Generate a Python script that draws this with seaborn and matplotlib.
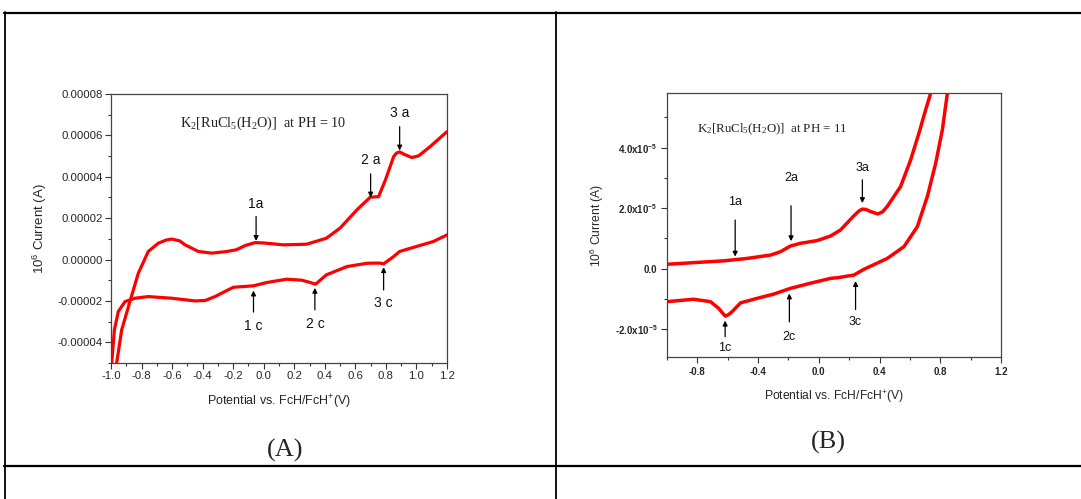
import numpy as np
import pandas as pd
import matplotlib
matplotlib.use("Agg")
import matplotlib.pyplot as plt
from matplotlib.lines import Line2D
from matplotlib.ticker import MultipleLocator, FixedLocator, FixedFormatter, FormatStrFormatter
import seaborn as sns

# --- datos (potencial en V, corriente en 1e-5 A) ---
# panel A, pH = 10
a_anod_E = [-0.963, -0.930, -0.873, -0.821, -0.756, -0.690, -0.640, -0.603, -0.55, -0.515, -0.428,
            -0.341, -0.25, -0.18, -0.12, -0.056, 0.0, 0.13, 0.28, 0.41, 0.50, 0.61,
            0.697, 0.752, 0.797, 0.851, 0.870, 0.890, 0.905, 0.927, 0.970, 1.014, 1.09, 1.2]
a_anod_I = [-5.0, -3.40, -1.95, -0.66, 0.39, 0.79, 0.94, 0.99, 0.90, 0.71, 0.39,
            0.31, 0.38, 0.47, 0.68, 0.82, 0.80, 0.71, 0.74, 1.03, 1.52, 2.40,
            3.01, 3.04, 3.85, 4.98, 5.15, 5.20, 5.14, 5.06, 4.93, 5.01, 5.46, 6.18]
a_cat_E = [-0.995, -0.978, -0.952, -0.908, -0.843, -0.756, -0.603, -0.45, -0.384, -0.319,
           -0.199, -0.067, 0.02, 0.15, 0.25, 0.30, 0.34, 0.41, 0.545, 0.676, 0.760, 0.785,
           0.85, 0.89, 1.0, 1.11, 1.2]
a_cat_I = [-5.0, -3.40, -2.51, -2.03, -1.87, -1.79, -1.87, -2.0, -1.98, -1.79,
           -1.34, -1.27, -1.11, -0.95, -1.0, -1.10, -1.19, -0.74, -0.34, -0.18, -0.17, -0.21,
           0.14, 0.39, 0.63, 0.87, 1.19]

# panel B, pH = 11
b_anod_E = [-1.0, -0.825, -0.627, -0.472, -0.319, -0.253, -0.187, -0.121, -0.011, 0.077,
            0.143, 0.231, 0.265, 0.286, 0.310, 0.341, 0.389, 0.420, 0.451, 0.539, 0.605,
            0.660, 0.704, 0.737, 0.76]
b_anod_I = [0.146, 0.20, 0.26, 0.34, 0.45, 0.56, 0.75, 0.84, 0.93, 1.08,
            1.28, 1.75, 1.91, 1.97, 1.96, 1.89, 1.81, 1.88, 2.06, 2.72, 3.60,
            4.49, 5.26, 5.81, 6.5]
b_cat_E = [-1.0, -0.825, -0.714, -0.660, -0.630, -0.615, -0.595, -0.571, -0.516, -0.406,
           -0.297, -0.187, -0.055, 0.077, 0.121, 0.231, 0.297, 0.451, 0.561, 0.649, 0.715,
           0.770, 0.814, 0.847, 0.865]
b_cat_I = [-1.09, -1.01, -1.09, -1.31, -1.49, -1.57, -1.52, -1.42, -1.13, -0.98,
           -0.84, -0.65, -0.48, -0.32, -0.30, -0.21, -0.02, 0.34, 0.73, 1.39, 2.39,
           3.49, 4.60, 5.81, 6.5]

# flechas: etiqueta, x, y etiqueta, y cola, y punta (1e-5 A)
a_marks = ["1a", "2 a", "3 a", "1 c", "2 c", "3 c"]
a_mark_x = [-0.05, 0.70, 0.89, -0.067, 0.335, 0.785]
a_mark_ylab = [2.69, 4.81, 7.07, -3.19, -3.12, -2.11]
a_mark_ytail = [2.08, 4.14, 6.42, -2.54, -2.43, -1.47]
a_mark_yhead = [0.90, 3.00, 5.27, -1.50, -1.37, -0.37]

b_marks = ["1a", "2a", "3a", "1c", "2c", "3c"]
b_mark_x = [-0.551, -0.183, 0.287, -0.617, -0.194, 0.242]
b_mark_ylab = [2.22, 2.99, 3.33, -2.62, -2.25, -1.76]
b_mark_ytail = [1.61, 2.08, 2.94, -2.25, -1.76, -1.35]
b_mark_yhead = [0.40, 0.91, 2.17, -1.72, -0.82, -0.41]

b_yticks = [-2e-5, 0.0, 2e-5, 4e-5]
b_yticklabels = ["-2.0x10$^{-5}$", "0.0", "2.0x10$^{-5}$", "4.0x10$^{-5}$"]

sns.set_theme(style="ticks")
plt.rcParams["font.family"] = ["Liberation Sans", "DejaVu Sans"]
plt.rcParams["mathtext.default"] = "regular"

W, H = 1081, 499
fig = plt.figure(figsize=(W / 100, H / 100), dpi=100)


def px_axes(x0, y0, x1, y1):
    return fig.add_axes([x0 / W, 1 - y1 / H, (x1 - x0) / W, (y1 - y0) / H])


def hacer_panel(ax, anod_E, anod_I, cat_E, cat_I, lw):
    df = pd.concat([
        pd.DataFrame({"E": anod_E, "I": np.array(anod_I) * 1e-5, "scan": "anod"}),
        pd.DataFrame({"E": cat_E, "I": np.array(cat_I) * 1e-5, "scan": "cat"}),
    ])
    sns.lineplot(data=df, x="E", y="I", hue="scan", palette=["#ff0000", "#ff0000"],
                 sort=False, estimator=None, linewidth=lw, legend=False, ax=ax,
                 solid_joinstyle="round", solid_capstyle="round")
    for s in ax.spines.values():
        s.set_color("#444444")
        s.set_linewidth(0.9)
    ax.tick_params(which="both", direction="out", color="#333333", width=0.8)
    ax.tick_params(which="major", length=4)
    ax.tick_params(which="minor", length=2.5)
    ax.set_xlim(-1.0, 1.2)


def flechas(ax, labels, xs, ylab, ytail, yhead, fs):
    for lab, x, yl, yt, yh in zip(labels, xs, ylab, ytail, yhead):
        ax.annotate("", xy=(x, yh * 1e-5), xytext=(x, yt * 1e-5),
                    arrowprops=dict(arrowstyle="-|>", color="black", lw=0.9,
                                    mutation_scale=7, shrinkA=0, shrinkB=0))
        ax.text(x, yl * 1e-5, lab, ha="center", va="center", fontsize=fs, color="#111111")


# ---------------- panel A ----------------
axA = px_axes(111, 94, 447, 363)
hacer_panel(axA, a_anod_E, a_anod_I, a_cat_E, a_cat_I, 2.3)
axA.set_ylim(-5e-5, 8e-5)
axA.xaxis.set_major_locator(MultipleLocator(0.2))
axA.xaxis.set_minor_locator(MultipleLocator(0.1))
axA.xaxis.set_major_formatter(FormatStrFormatter("%.1f"))
axA.yaxis.set_major_locator(MultipleLocator(2e-5))
axA.yaxis.set_minor_locator(MultipleLocator(1e-5))
axA.yaxis.set_major_formatter(FormatStrFormatter("%.5f"))
axA.tick_params(labelsize=8.2, pad=2)
axA.set_xlabel("Potential vs. FcH/FcH$^{+}$(V)", fontsize=9, labelpad=8)
axA.set_ylabel("10$^{6}$ Current (A)", fontsize=9.5, labelpad=6)
flechas(axA, a_marks, a_mark_x, a_mark_ylab, a_mark_ytail, a_mark_yhead, 10)
axA.text(-0.55, 6.59e-5, "K$_2$[RuCl$_5$(H$_2$O)]  at PH = 10", ha="left", va="center",
         fontsize=10.3, family=["Liberation Serif"], color="#222222")

# ---------------- panel B ----------------
axB = px_axes(667, 93, 1001, 357)
hacer_panel(axB, b_anod_E, b_anod_I, b_cat_E, b_cat_I, 2.5)
axB.set_ylim(-2.92e-5, 5.81e-5)
axB.xaxis.set_major_locator(MultipleLocator(0.4))
axB.xaxis.set_minor_locator(MultipleLocator(0.2))
axB.xaxis.set_major_formatter(FormatStrFormatter("%.1f"))
axB.yaxis.set_major_locator(FixedLocator(b_yticks))
axB.yaxis.set_major_formatter(FixedFormatter(b_yticklabels))
axB.yaxis.set_minor_locator(MultipleLocator(1e-5))
axB.tick_params(labelsize=7, pad=3)
for t in axB.get_xticklabels() + axB.get_yticklabels():
    t.set_fontweight("bold")
axB.set_xlabel("Potential vs. FcH/FcH$^{+}$(V)", fontsize=8.7, labelpad=8)
axB.set_ylabel("10$^{6}$ Current (A)", fontsize=8.7, labelpad=6)
flechas(axB, b_marks, b_mark_x, b_mark_ylab, b_mark_ytail, b_mark_yhead, 9)
axB.text(-0.80, 4.60e-5, "K$_2$[RuCl$_5$(H$_2$O)]  at PH = 11", ha="left", va="center",
         fontsize=9.3, family=["Liberation Serif"], color="#222222")

# ---------------- tabla (marco) ----------------
def linea(x0, y0, x1, y1, lw):
    fig.add_artist(Line2D([x0 / W, x1 / W], [1 - y0 / H, 1 - y1 / H],
                          transform=fig.transFigure, color="black", linewidth=lw))

linea(4, 13, W, 13, 1.6)
linea(4, 466, W, 466, 1.6)
linea(5, 12, 5, H, 1.3)
linea(556, 12, 556, H, 1.3)

fig.text(285 / W, 1 - 450 / H, "(A)", ha="center", va="center", fontsize=19,
         family=["Liberation Serif"])
fig.text(828 / W, 1 - 442 / H, "(B)", ha="center", va="center", fontsize=19,
         family=["Liberation Serif"])

fig.savefig("out.png", dpi=100)
